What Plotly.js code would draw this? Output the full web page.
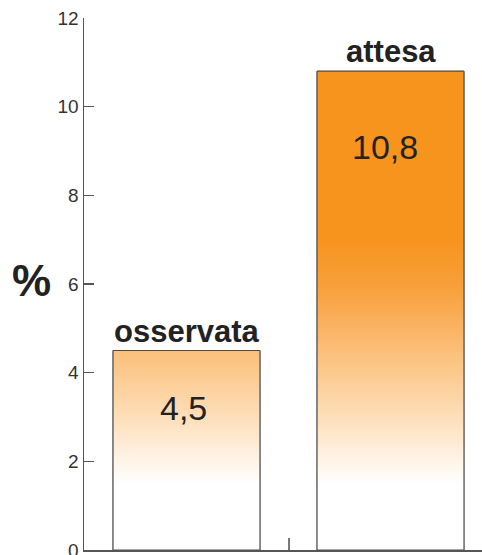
<!DOCTYPE html>
<html>
<head>
<meta charset="utf-8">
<script src="https://cdn.plot.ly/plotly-3.0.1.min.js"></script>
<style>html,body{margin:0;padding:0;background:#fff;}#chart{width:482px;height:555px;}</style>
</head>
<body>
<div id="chart"></div>
<script>
// ---- data ----
var categories = ['osservata', 'attesa'];
var values = [4.5, 10.8];
var valueLabels = ['4,5', '10,8'];
var yTickVals = [0, 2, 4, 6, 8, 10, 12];
var yTickText = ['0', '2', '4', '6', '8', '10', '12'];
var axisUnit = '%';

// ---- style ----
var FONT = 'Liberation Sans, Arial, Helvetica, sans-serif';
var barWidth = 0.72;
var outline = '#4a4a4a';
var xPos = categories.map(function (c, i) { return i; });

var traces = [];
// outline bars (semantic bar trace)
traces.push({
  type: 'bar',
  x: xPos,
  y: values,
  width: barWidth,
  marker: { color: 'rgba(0,0,0,0)', line: { color: outline, width: 1 } },
  hoverinfo: 'skip',
  showlegend: false
});
// gradient fills, built from the same values
values.forEach(function (v, i) {
  var x0 = xPos[i] - barWidth / 2, x1 = xPos[i] + barWidth / 2;
  traces.push({
    type: 'scatter',
    mode: 'lines',
    x: [x0, x1, x1, x0, x0],
    y: [0, 0, v, v, 0],
    fill: 'toself',
    line: { color: outline, width: 1 },
    fillgradient: {
      type: 'vertical',
      start: 1.5,
      stop: 7.0,
      colorscale: [
        [0, 'rgb(255,255,255)'],
        [0.25, 'rgb(253,225,190)'],
        [0.55, 'rgb(251,190,120)'],
        [0.8, 'rgb(248,160,60)'],
        [1, 'rgb(247,148,30)']
      ]
    },
    hoverinfo: 'skip',
    showlegend: false
  });
});

var annotations = [];
categories.forEach(function (c, i) {
  annotations.push({
    x: xPos[i], y: values[i], xref: 'x', yref: 'y',
    text: '<b>' + c + '</b>', showarrow: false,
    xanchor: 'center', yanchor: 'bottom', yshift: 0,
    font: { family: FONT, size: 31, color: '#222' }
  });
});
var valueShift = [-57, -76];
var valueXShift = [-3, -6];
valueLabels.forEach(function (t, i) {
  annotations.push({
    x: xPos[i], y: values[i], xref: 'x', yref: 'y',
    text: t, showarrow: false,
    xanchor: 'center', yanchor: 'middle', yshift: valueShift[i], xshift: valueXShift[i],
    font: { family: FONT, size: 34, color: '#222' }
  });
});
annotations.push({
  x: -0.133, y: 6.07, xref: 'paper', yref: 'y',
  text: '<b>' + axisUnit + '</b>', showarrow: false,
  xanchor: 'center', yanchor: 'middle',
  font: { family: FONT, size: 44, color: '#222' }
});

var layout = {
  width: 482, height: 555,
  margin: { l: 84, r: 0, t: 18, b: 5, pad: 0 },
  paper_bgcolor: '#fff', plot_bgcolor: '#fff',
  showlegend: false,
  xaxis: {
    range: [-0.5025, 1.4485],
    showline: true, linecolor: '#555', linewidth: 1.5,
    showgrid: false, zeroline: false,
    tickvals: [0.5], ticks: 'inside', ticklen: 12, tickwidth: 2, tickcolor: '#777',
    showticklabels: false, fixedrange: true
  },
  yaxis: {
    range: [0, 12],
    showline: true, linecolor: '#555', linewidth: 1.5,
    showgrid: false, zeroline: false,
    tickvals: yTickVals, ticktext: yTickText,
    ticks: 'inside', ticklen: 10, tickwidth: 1.5, tickcolor: '#555',
    tickfont: { family: FONT, size: 19, color: '#333' },
    ticklabeloverflow: 'allow',
    fixedrange: true
  },
  annotations: annotations
};

Plotly.newPlot('chart', traces, layout, { staticPlot: true, displayModeBar: false });
</script>
</body>
</html>
